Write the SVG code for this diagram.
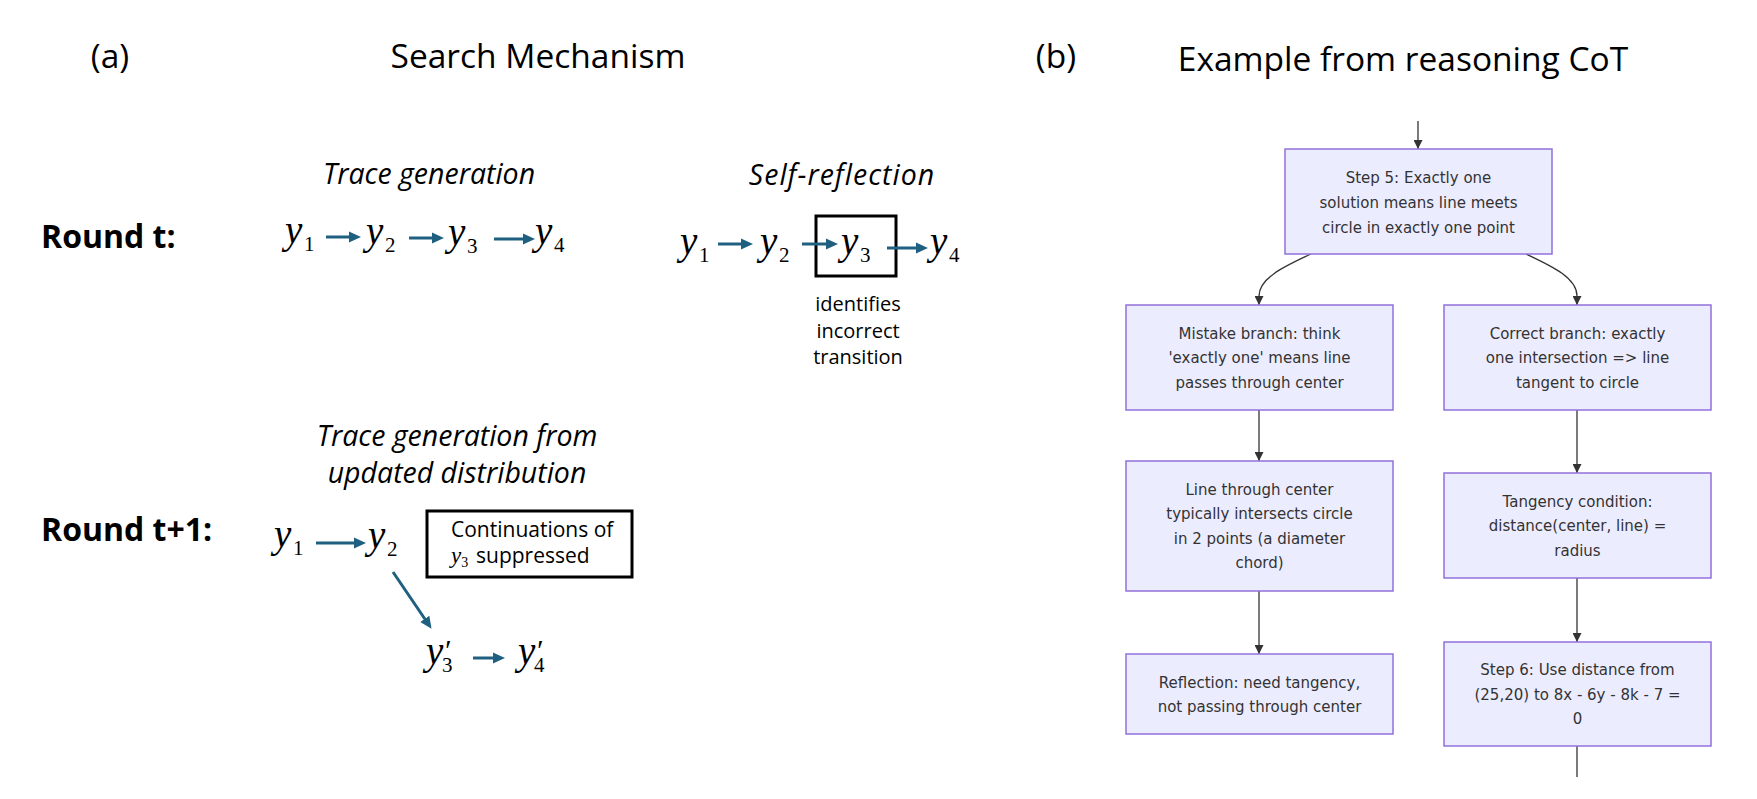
<svg xmlns="http://www.w3.org/2000/svg" width="1757" height="799" viewBox="0 0 1757 799">
<style>
.t{font-family:"Open Sans","Liberation Sans",sans-serif;fill:#000}
.ttl{font-size:33.5px}
.it{font-size:28.5px;font-style:italic}
.rd{font-size:32px;font-weight:bold}
.sm{font-size:20px}
.bs{font-size:21px}
.v{font-family:"Liberation Serif",serif;font-style:italic;font-size:39px;fill:#000}
.s{font-family:"Liberation Serif",serif;font-style:normal;font-size:21px;fill:#000}
.pr{font-family:"Liberation Serif",serif;font-style:italic;font-size:30px;fill:#000}
.ta{stroke:#1f6080;stroke-width:3;fill:none}
.bx{fill:none;stroke:#000;stroke-width:3}
.nd{fill:#ECECFF;stroke:#9370DB;stroke-width:1.5}
.nt{font-family:"DejaVu Sans",Verdana,sans-serif;font-size:15px;fill:#333;text-anchor:middle}
.ml{stroke:#333;stroke-width:1.3;fill:none}
</style>
<defs>
<marker id="ah" markerUnits="userSpaceOnUse" markerWidth="12" markerHeight="12" refX="5" refY="6" orient="auto"><path d="M0,0.5 L12,6 L0,11.5 z" fill="#1f6080"/></marker>
<marker id="mh" markerUnits="userSpaceOnUse" markerWidth="9" markerHeight="9" refX="9" refY="4.5" orient="auto"><path d="M0,0 L9,4.5 L0,9 z" fill="#333"/></marker>
</defs>
<rect width="1757" height="799" fill="#fff"/>

<g id="titles">
<text class="t ttl" x="110" y="68" text-anchor="middle">(a)</text>
<text class="t ttl" x="538" y="68" text-anchor="middle">Search Mechanism</text>
<text class="t ttl" x="1056" y="68" text-anchor="middle">(b)</text>
<text class="t ttl" x="1403" y="71" text-anchor="middle">Example from reasoning CoT</text>
</g>

<g id="round-t">
<text class="t rd" x="41" y="248">Round t:</text>
<text class="t it" x="429" y="184" text-anchor="middle">Trace generation</text>
<text class="t it" x="842" y="185" text-anchor="middle" letter-spacing="1">Self-reflection</text>
</g>

<g id="trace-row">
<text class="v" x="285" y="243">y</text><text class="s" x="304" y="251">1</text>
<text class="v" x="366" y="244">y</text><text class="s" x="385" y="252">2</text>
<text class="v" x="448" y="245">y</text><text class="s" x="467" y="253">3</text>
<text class="v" x="535" y="244">y</text><text class="s" x="554" y="252">4</text>
</g>

<g id="reflect-row">
<text class="v" x="680" y="254">y</text><text class="s" x="699" y="262">1</text>
<text class="v" x="760" y="254">y</text><text class="s" x="779" y="262">2</text>
<rect id="y3-box" class="bx" x="816" y="216" width="80" height="60"/>
<text class="v" x="841" y="254">y</text><text class="s" x="860" y="262">3</text>
<text class="v" x="930" y="254">y</text><text class="s" x="949" y="262">4</text>
<text class="t sm" x="858" y="311" text-anchor="middle">identifies</text>
<text class="t sm" x="858" y="338" text-anchor="middle">incorrect</text>
<text class="t sm" x="858" y="364" text-anchor="middle">transition</text>
</g>

<g id="round-t1">
<text class="t rd" x="41" y="541">Round t+1:</text>
<text class="t it" x="457" y="446" text-anchor="middle">Trace generation from</text>
<text class="t it" x="457" y="483" text-anchor="middle">updated distribution</text>
<text class="v" x="274" y="547">y</text><text class="s" x="293" y="555">1</text>
<text class="v" x="368" y="548">y</text><text class="s" x="387" y="556">2</text>
<text class="v" x="426" y="664">y<tspan class="pr" dx="0" dy="-4">′</tspan><tspan class="s" dx="-8" dy="12">3</tspan></text>
<text class="v" x="518" y="664">y<tspan class="pr" dx="0" dy="-4">′</tspan><tspan class="s" dx="-8" dy="12">4</tspan></text>
</g>

<g id="suppressed-box">
<rect class="bx" x="427" y="511" width="205" height="66"/>
<text class="t bs" x="451" y="537">Continuations of</text>
<text class="v" x="451" y="563" style="font-size:23px">y<tspan class="s" dx="0" dy="4" style="font-size:14px">3</tspan></text>
<text class="t bs" x="476" y="563">suppressed</text>
</g>

<g id="left-connectors">
<line class="ta" x1="326" y1="237" x2="354" y2="237" marker-end="url(#ah)"/>
<line class="ta" x1="409" y1="238" x2="437" y2="238" marker-end="url(#ah)"/>
<line class="ta" x1="494" y1="239" x2="528" y2="239" marker-end="url(#ah)"/>
<line class="ta" x1="718" y1="244" x2="746" y2="244" marker-end="url(#ah)"/>
<line class="ta" x1="802" y1="244" x2="831" y2="244" marker-end="url(#ah)"/>
<line class="ta" x1="887" y1="248" x2="921" y2="248" marker-end="url(#ah)"/>
<line class="ta" x1="316" y1="543" x2="359" y2="543" marker-end="url(#ah)"/>
<line class="ta" x1="393" y1="572" x2="427.6" y2="623" marker-end="url(#ah)"/>
<line class="ta" x1="473" y1="658" x2="498" y2="658" marker-end="url(#ah)"/>
</g>

<g id="flow-connectors">
<line class="ml" x1="1418" y1="121" x2="1418" y2="149" marker-end="url(#mh)"/>
<path class="ml" d="M1311,254 C1288,265 1259,277 1259,296 L1259,305" marker-end="url(#mh)"/>
<path class="ml" d="M1526,254 C1549,265 1577,277 1577,296 L1577,305" marker-end="url(#mh)"/>
<line class="ml" x1="1259" y1="410" x2="1259" y2="461" marker-end="url(#mh)"/>
<line class="ml" x1="1259" y1="591" x2="1259" y2="654" marker-end="url(#mh)"/>
<line class="ml" x1="1577" y1="410" x2="1577" y2="473" marker-end="url(#mh)"/>
<line class="ml" x1="1577" y1="578" x2="1577" y2="642" marker-end="url(#mh)"/>
<line class="ml" x1="1577" y1="746" x2="1577" y2="777"/>
</g>

<g id="step5">
<rect class="nd" x="1285" y="149" width="267" height="105"/>
<text class="nt" x="1418.5" y="183">Step 5: Exactly one</text>
<text class="nt" x="1418.5" y="208">solution means line meets</text>
<text class="nt" x="1418.5" y="233">circle in exactly one point</text>
</g>
<g id="mistake">
<rect class="nd" x="1126" y="305" width="267" height="105"/>
<text class="nt" x="1259.5" y="339">Mistake branch: think</text>
<text class="nt" x="1259.5" y="363">'exactly one' means line</text>
<text class="nt" x="1259.5" y="388">passes through center</text>
</g>
<g id="correct">
<rect class="nd" x="1444" y="305" width="267" height="105"/>
<text class="nt" x="1577.5" y="339">Correct branch: exactly</text>
<text class="nt" x="1577.5" y="363">one intersection =&gt; line</text>
<text class="nt" x="1577.5" y="388">tangent to circle</text>
</g>
<g id="line-center">
<rect class="nd" x="1126" y="461" width="267" height="130"/>
<text class="nt" x="1259.5" y="495">Line through center</text>
<text class="nt" x="1259.5" y="519">typically intersects circle</text>
<text class="nt" x="1259.5" y="544">in 2 points (a diameter</text>
<text class="nt" x="1259.5" y="568">chord)</text>
</g>
<g id="reflection">
<rect class="nd" x="1126" y="654" width="267" height="80"/>
<text class="nt" x="1259.5" y="688">Reflection: need tangency,</text>
<text class="nt" x="1259.5" y="712">not passing through center</text>
</g>
<g id="tangency">
<rect class="nd" x="1444" y="473" width="267" height="105"/>
<text class="nt" x="1577.5" y="507">Tangency condition:</text>
<text class="nt" x="1577.5" y="531">distance(center, line) =</text>
<text class="nt" x="1577.5" y="556">radius</text>
</g>
<g id="step6">
<rect class="nd" x="1444" y="642" width="267" height="104"/>
<text class="nt" x="1577.5" y="675">Step 6: Use distance from</text>
<text class="nt" x="1577.5" y="700">(25,20) to 8x - 6y - 8k - 7 =</text>
<text class="nt" x="1577.5" y="724">0</text>
</g>
</svg>
